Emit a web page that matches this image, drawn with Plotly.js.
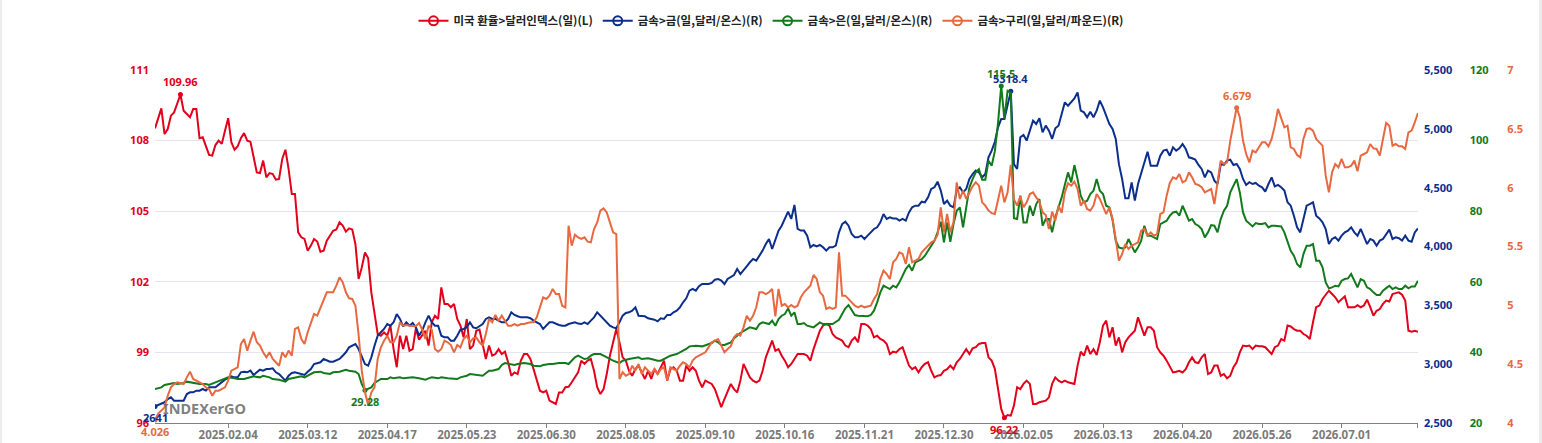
<!DOCTYPE html>
<html><head><meta charset="utf-8">
<script src="https://cdn.plot.ly/plotly-3.0.1.min.js"></script>
<style>
html,body{margin:0;padding:0;background:#fff;overflow:hidden;}
#chart{width:1542px;height:443px;}
#edgeL{position:absolute;left:0;top:0;width:2px;height:443px;background:#ececec;}
#edgeR{position:absolute;left:1539px;top:0;width:3px;height:443px;background:#ececec;}
</style>
</head><body>
<div id="chart"></div><div id="edgeL"></div><div id="edgeR"></div>
<script>
// ---- series names ----
const seriesNames = ['미국 환율>달러인덱스(일)(L)', '금속>금(일,달러/온스)(R)', '금속>은(일,달러/온스)(R)', '금속>구리(일,달러/파운드)(R)'];

// ---- x-axis tick labels (trading-day index -> date label) ----
const tickDays = [23, 48, 73, 98, 123, 148, 173, 198, 223, 248, 273, 298, 323, 348, 373];
const tickLabels = ['2025.02.04','2025.03.12','2025.04.17','2025.05.23','2025.06.30','2025.08.05','2025.09.10','2025.10.16','2025.11.21','2025.12.30','2026.02.05','2026.03.13','2026.04.20','2026.05.26','2026.07.01'];
const lastDay = 397;

// ---- Dollar index [trading day, value] ----
const dxyPoints = [[0,108.52],[2,109.37],[3,108.28],[4,108.49],[5,109.06],[6,109.2],[8,109.96],[9,109.27],[11,108.99],[12,109.34],[13,109.34],[14,108.1],[15,108.14],[16,107.76],[17,107.39],[18,107.36],[19,107.81],[20,108.0],[21,107.86],[22,108.42],[23,108.95],[24,107.93],[25,107.61],[26,107.76],[27,108.1],[28,108.32],[29,108.0],[30,107.95],[31,107.22],[32,106.65],[33,106.62],[34,107.15],[35,106.44],[36,106.62],[37,106.58],[38,106.34],[39,106.37],[40,107.22],[41,107.61],[42,106.79],[43,105.73],[44,105.73],[45,104.1],[46,103.89],[47,103.82],[48,103.32],[49,103.54],[50,103.82],[51,103.71],[52,103.28],[53,103.32],[54,103.75],[56,104.17],[57,104.22],[58,104.53],[59,104.39],[60,104.13],[61,104.27],[62,104.22],[63,103.61],[64,102.12],[65,102.61],[66,103.25],[67,103.0],[68,101.55],[69,100.56],[70,99.78],[71,99.71],[72,99.85],[73,99.71],[74,100.14],[75,99.14],[76,98.37],[77,99.71],[78,99.14],[79,99.71],[80,99.07],[81,99.14],[82,100.02],[83,99.54],[84,99.71],[85,99.92],[86,99.29],[87,100.28],[88,100.56],[89,100.42],[90,101.76],[91,101.06],[92,101.06],[93,100.92],[94,101.06],[95,100.42],[96,100.14],[97,99.64],[98,100.42],[99,99.14],[100,99.29],[101,99.92],[102,99.97],[103,99.29],[104,98.72],[105,99.29],[106,98.86],[107,98.93],[108,99.14],[109,98.93],[110,99.03],[111,98.58],[112,98.01],[113,98.15],[114,98.08],[115,98.65],[116,98.93],[117,98.93],[118,98.72],[119,98.29],[120,97.8],[121,97.37],[122,97.3],[123,97.37],[124,96.95],[125,96.88],[126,96.81],[127,97.3],[128,97.3],[129,97.52],[130,97.54],[131,97.73],[133,98.15],[134,98.65],[135,98.51],[136,98.65],[137,98.72],[138,98.22],[139,97.52],[140,97.23],[141,97.44],[142,98.08],[143,98.86],[144,99.43],[145,99.99],[146,99.43],[147,98.79],[148,98.65],[149,98.22],[150,98.01],[151,98.29],[152,98.44],[153,98.15],[154,97.87],[155,98.22],[156,97.87],[157,98.29],[158,98.08],[160,98.65],[161,97.8],[162,98.29],[163,98.37],[164,98.22],[165,97.8],[166,97.8],[167,98.44],[168,98.22],[169,98.37],[170,98.22],[171,97.8],[172,97.52],[173,97.8],[174,97.73],[175,97.66],[176,97.44],[177,97.02],[178,96.67],[179,97.02],[180,97.37],[181,97.66],[182,97.44],[183,97.3],[184,97.8],[185,98.51],[186,98.22],[187,97.94],[188,97.8],[189,97.73],[190,97.8],[191,98.22],[192,98.79],[193,99.14],[194,99.5],[195,99.07],[196,99.14],[197,98.86],[198,98.65],[199,98.37],[200,98.51],[201,98.72],[202,98.93],[203,98.93],[204,98.93],[205,98.86],[206,98.65],[207,99.14],[208,99.57],[209,99.92],[210,100.14],[211,100.21],[212,100.14],[213,99.78],[214,99.64],[215,99.57],[216,99.5],[217,99.29],[218,99.22],[219,99.5],[220,99.64],[221,99.43],[222,100.21],[223,100.21],[224,100.14],[225,99.99],[226,99.64],[227,99.71],[228,99.57],[229,99.5],[230,99.36],[231,98.93],[232,99.03],[233,99.0],[234,99.14],[235,99.22],[236,98.79],[237,98.44],[238,98.29],[239,98.37],[240,98.15],[241,98.37],[242,98.51],[243,98.58],[244,98.22],[245,97.94],[246,98.01],[247,98.04],[248,98.22],[249,98.29],[250,98.44],[251,98.29],[252,98.58],[253,98.72],[254,98.93],[255,99.14],[256,98.93],[257,99.17],[258,99.22],[259,99.36],[260,99.4],[261,99.4],[262,98.79],[263,98.65],[264,98.3],[265,97.4],[266,96.6],[267,96.22],[268,96.34],[269,96.31],[270,96.74],[271,97.52],[272,97.44],[273,97.66],[274,97.8],[275,97.66],[276,96.81],[277,96.81],[278,96.88],[280,96.95],[281,97.09],[282,97.66],[283,97.94],[284,97.8],[285,97.73],[286,97.8],[287,97.73],[289,97.66],[290,98.44],[291,99.03],[292,98.86],[293,99.29],[294,98.93],[295,99.14],[296,98.89],[297,99.43],[298,100.14],[299,100.35],[300,99.64],[301,100.07],[302,99.29],[303,99.64],[304,99.0],[305,99.43],[306,99.64],[307,99.78],[308,99.92],[309,100.49],[310,100.07],[311,99.71],[312,100.07],[313,100.07],[314,99.92],[315,99.22],[316,99.0],[317,98.86],[318,98.65],[319,98.37],[320,98.15],[321,98.18],[322,98.22],[323,98.15],[324,98.29],[325,98.58],[326,98.79],[327,98.58],[328,98.55],[329,98.79],[330,98.93],[331,98.08],[332,98.15],[333,98.44],[334,98.44],[335,98.01],[336,98.08],[337,97.9],[338,98.01],[339,98.37],[340,98.58],[341,99.0],[342,99.29],[343,99.26],[344,99.29],[345,99.14],[346,99.29],[347,99.26],[348,99.26],[349,99.22],[350,99.07],[351,98.93],[352,99.22],[353,99.29],[354,99.57],[355,99.5],[356,100.14],[357,100.1],[358,99.99],[359,99.92],[360,99.92],[361,99.78],[362,99.71],[363,99.57],[364,100.28],[365,100.92],[366,100.99],[367,101.27],[368,101.45],[369,101.62],[370,101.48],[371,101.34],[372,101.13],[373,101.27],[374,101.38],[375,100.92],[376,100.92],[377,100.92],[378,101.01],[379,100.92],[380,100.99],[381,101.24],[382,100.92],[383,100.56],[384,100.77],[385,100.84],[386,101.06],[387,101.2],[388,101.16],[389,101.48],[390,101.52],[391,101.55],[392,101.45],[393,101.2],[394,99.92],[395,99.88],[396,99.92],[397,99.88]];

// ---- Gold [trading day, USD/oz] ----
const goldPoints = [[0,2641],[2,2661],[3,2676],[4,2704],[5,2718],[6,2690],[7,2690],[9,2690],[10,2746],[11,2761],[12,2761],[13,2775],[14,2775],[15,2789],[16,2775],[17,2803],[19,2803],[20,2823],[21,2846],[22,2868],[24,2897],[25,2888],[26,2888],[27,2931],[28,2936],[29,2931],[30,2945],[31,2908],[32,2931],[33,2953],[34,2945],[35,2959],[36,2959],[37,2965],[38,2931],[39,2916],[40,2888],[41,2860],[42,2902],[43,2925],[44,2931],[45,2925],[46,2916],[47,2908],[48,2936],[49,2959],[50,3001],[51,3010],[52,3016],[53,3044],[54,3030],[55,3021],[56,3021],[57,3030],[58,3044],[59,3072],[60,3101],[61,3143],[62,3157],[63,3171],[64,3129],[65,3072],[66,3001],[67,2988],[68,3058],[69,3157],[70,3242],[71,3271],[72,3299],[73,3341],[74,3327],[75,3356],[76,3426],[77,3384],[78,3320],[79,3356],[80,3327],[81,3350],[82,3313],[83,3242],[84,3285],[85,3356],[86,3412],[87,3356],[88,3327],[89,3327],[90,3242],[91,3228],[92,3228],[93,3200],[94,3200],[95,3242],[96,3293],[97,3299],[98,3313],[99,3356],[100,3313],[101,3305],[102,3327],[103,3341],[104,3384],[105,3398],[106,3384],[107,3384],[108,3370],[109,3356],[110,3356],[111,3384],[112,3441],[113,3418],[114,3407],[115,3398],[117,3398],[118,3390],[119,3370],[120,3356],[121,3341],[122,3299],[123,3327],[124,3356],[125,3356],[126,3341],[127,3333],[128,3327],[129,3327],[130,3341],[131,3350],[132,3356],[133,3345],[134,3341],[135,3356],[136,3341],[137,3370],[138,3398],[139,3441],[140,3412],[141,3384],[142,3356],[143,3327],[144,3313],[145,3305],[146,3356],[147,3412],[148,3435],[149,3441],[150,3455],[151,3483],[152,3412],[153,3407],[154,3407],[155,3390],[156,3384],[157,3378],[158,3364],[159,3390],[160,3384],[161,3418],[162,3418],[163,3441],[164,3455],[165,3483],[166,3526],[167,3560],[168,3625],[169,3639],[170,3625],[171,3662],[172,3681],[173,3681],[174,3681],[175,3690],[176,3718],[177,3724],[178,3710],[179,3681],[180,3724],[182,3758],[183,3809],[184,3766],[185,3803],[186,3832],[187,3866],[188,3894],[189,3880],[190,3922],[191,3965],[192,4021],[193,4064],[194,3979],[195,4050],[196,4135],[197,4177],[198,4239],[199,4296],[200,4234],[201,4353],[202,4150],[203,4135],[204,4135],[205,4092],[206,3993],[207,4013],[208,4001],[209,4013],[210,3993],[211,3965],[212,3993],[213,3993],[214,4007],[215,4120],[216,4191],[217,4211],[218,4177],[219,4106],[220,4078],[221,4078],[222,4092],[223,4064],[224,4092],[225,4120],[226,4149],[227,4163],[228,4205],[229,4276],[230,4234],[231,4248],[232,4239],[233,4239],[234,4220],[235,4234],[236,4220],[237,4290],[238,4333],[239,4347],[240,4347],[241,4381],[242,4375],[243,4418],[244,4489],[245,4503],[246,4551],[247,4475],[248,4361],[249,4390],[250,4347],[251,4333],[252,4475],[253,4503],[254,4460],[255,4489],[256,4574],[257,4616],[258,4645],[259,4630],[260,4588],[261,4616],[262,4758],[263,4815],[264,4890],[265,5013],[266,5084],[267,5084],[268,5200],[269,5318.4],[270,4700],[271,4659],[272,4928],[273,4948],[274,4900],[275,4985],[276,5070],[277,5041],[278,5090],[279,4970],[280,5027],[281,4985],[282,4914],[283,5004],[284,5027],[285,5126],[286,5225],[287,5197],[288,5225],[289,5259],[290,5310],[291,5155],[292,5140],[293,5098],[294,5146],[295,5098],[296,5154],[297,5240],[298,5183],[299,5118],[300,5041],[301,4999],[302,4914],[303,4700],[304,4574],[305,4409],[306,4409],[307,4545],[308,4390],[309,4531],[310,4616],[311,4715],[312,4806],[313,4687],[314,4687],[315,4687],[316,4772],[317,4815],[318,4823],[319,4772],[320,4843],[321,4815],[322,4834],[323,4871],[324,4829],[325,4758],[326,4750],[327,4738],[328,4693],[329,4659],[330,4588],[331,4645],[332,4630],[333,4560],[334,4531],[335,4701],[336,4693],[337,4730],[338,4738],[339,4693],[340,4701],[341,4659],[342,4574],[343,4523],[344,4546],[345,4531],[346,4540],[347,4517],[348,4503],[349,4466],[350,4531],[351,4588],[352,4511],[353,4523],[354,4503],[355,4475],[356,4376],[357,4347],[358,4262],[359,4163],[360,4120],[361,4248],[362,4347],[363,4361],[364,4376],[365,4262],[366,4239],[367,4205],[368,4149],[369,4021],[370,4064],[371,4078],[372,4050],[373,4092],[374,4120],[375,4135],[376,4163],[377,4120],[378,4092],[379,4149],[380,4092],[381,4021],[382,4064],[383,4050],[384,4007],[385,4050],[386,4064],[387,4100],[388,4143],[389,4064],[390,4078],[391,4070],[392,4050],[393,4092],[394,4050],[395,4041],[396,4120],[397,4154]];

// ---- Silver [trading day, USD/oz] ----
const silverPoints = [[0,29.63],[2,30.1],[3,30.76],[5,31.04],[6,31.33],[7,31.04],[9,31.33],[10,31.71],[11,31.52],[13,31.33],[14,31.04],[16,31.04],[17,30.76],[19,31.52],[21,32.27],[22,32.65],[23,32.93],[25,32.65],[26,32.46],[28,32.46],[30,32.93],[31,33.22],[33,32.93],[34,33.4],[36,32.93],[37,32.46],[39,32.27],[41,31.71],[42,32.46],[43,32.65],[44,32.93],[46,33.22],[47,32.93],[49,33.88],[50,34.35],[52,34.54],[53,34.16],[55,33.88],[56,34.35],[58,34.54],[59,34.82],[60,35.1],[61,34.82],[63,34.54],[64,33.88],[65,31.04],[66,29.28],[68,30.1],[69,31.33],[70,31.99],[71,32.46],[73,32.46],[74,32.93],[75,32.65],[77,32.93],[78,32.65],[80,32.93],[81,32.93],[83,32.65],[85,32.27],[86,32.65],[87,32.93],[89,32.65],[90,32.93],[92,32.65],[93,32.65],[95,32.46],[96,32.93],[98,33.4],[99,33.88],[101,33.6],[102,33.4],[103,33.4],[105,34.82],[106,34.82],[108,35.29],[109,36.43],[110,36.99],[112,36.71],[113,36.43],[114,36.71],[116,36.99],[118,36.71],[119,36.24],[121,36.05],[122,36.43],[124,36.71],[125,36.71],[127,36.99],[129,36.99],[130,36.71],[131,37.65],[132,38.6],[133,39.07],[134,38.6],[135,38.12],[136,38.31],[137,39.07],[138,39.54],[139,39.54],[140,39.54],[141,39.07],[142,38.6],[143,38.12],[144,37.65],[146,36.99],[147,37.65],[149,38.12],[151,38.31],[152,38.6],[153,38.12],[155,38.31],[156,38.12],[158,37.65],[159,37.65],[161,38.6],[162,39.07],[164,39.54],[165,40.01],[167,40.96],[168,41.71],[170,41.9],[172,41.71],[173,42.09],[175,42.66],[176,43.32],[177,42.85],[178,42.09],[179,42.09],[181,42.85],[182,43.98],[183,44.73],[184,45.49],[186,46.62],[187,47.09],[189,46.62],[190,48.04],[191,48.51],[193,48.04],[194,48.98],[195,47.56],[196,49.45],[197,50.4],[198,50.87],[199,52.47],[200,50.4],[201,51.34],[202,48.04],[203,48.04],[204,48.32],[205,47.56],[207,47.09],[208,47.75],[209,48.51],[210,48.04],[212,48.04],[213,48.04],[215,49.26],[216,50.87],[217,52.47],[218,53.42],[219,52.1],[220,50.59],[221,50.4],[222,50.4],[224,50.21],[225,50.59],[226,51.81],[227,54.17],[228,57.0],[229,58.89],[230,58.42],[231,57.95],[232,58.89],[233,58.42],[234,59.84],[235,61.54],[236,63.61],[237,64.75],[238,63.14],[239,65.5],[240,66.0],[241,66.44],[242,67.39],[243,68.8],[244,70.22],[245,71.64],[246,74.0],[247,77.02],[248,71.16],[249,76.83],[250,71.35],[251,76.36],[252,80.13],[253,81.08],[254,75.41],[255,81.55],[256,86.74],[257,89.1],[258,90.99],[259,91.93],[260,88.91],[261,88.91],[262,94.29],[263,92.88],[264,97.0],[265,105.0],[266,115.5],[267,106.09],[268,114.12],[269,113.64],[270,78.0],[271,77.77],[272,84.38],[273,76.83],[274,76.83],[275,81.55],[276,78.72],[277,82.02],[278,83.44],[279,75.88],[280,77.77],[281,77.77],[282,74.0],[283,78.24],[284,81.08],[285,83.91],[286,87.5],[287,90.99],[288,88.16],[289,93.07],[290,89.1],[291,84.38],[292,82.49],[293,82.96],[294,84.85],[295,85.8],[296,89.1],[297,85.8],[298,84.85],[299,81.55],[300,81.08],[301,77.5],[302,71.64],[303,69.75],[304,69.47],[305,69.75],[306,72.11],[307,70.0],[308,68.33],[309,69.75],[310,71.64],[311,75.88],[312,73.05],[313,73.05],[314,72.58],[315,72.11],[316,76.36],[317,76.83],[318,77.3],[319,78.72],[320,79.66],[321,79.85],[322,78.72],[323,81.55],[324,79.66],[325,77.3],[326,77.77],[327,76.36],[328,75.88],[329,74.94],[330,72.58],[331,74.0],[332,76.07],[333,75.88],[334,74.0],[335,77.77],[336,80.13],[337,81.55],[338,85.32],[339,87.21],[340,89.1],[341,85.32],[342,79.66],[343,77.3],[344,76.36],[345,75.7],[346,76.64],[347,76.36],[348,76.36],[349,76.64],[350,75.41],[351,75.88],[352,75.88],[353,75.88],[354,75.7],[355,74.0],[356,71.64],[357,68.8],[358,67.39],[359,65.03],[360,64.08],[361,67.86],[362,70.22],[363,70.22],[364,70.69],[365,65.97],[366,65.97],[367,64.08],[368,59.84],[369,58.14],[370,58.42],[371,58.89],[372,58.7],[373,60.31],[374,60.78],[375,60.97],[376,62.2],[377,60.31],[378,58.42],[379,60.78],[380,60.31],[381,58.42],[382,57.95],[383,57.0],[384,56.25],[385,56.25],[386,57.48],[387,58.2],[388,58.89],[389,57.95],[390,58.42],[391,57.95],[392,57.95],[393,58.89],[394,58.14],[395,58.7],[396,58.7],[397,60.31]];

// ---- Copper [trading day, USD/lb] ----
const copperPoints = [[0,4.026],[1,4.08],[3,4.133],[4,4.232],[5,4.303],[6,4.331],[7,4.346],[9,4.331],[10,4.388],[11,4.436],[12,4.374],[13,4.36],[15,4.331],[16,4.303],[17,4.289],[18,4.232],[19,4.275],[20,4.275],[21,4.289],[22,4.303],[23,4.36],[24,4.445],[26,4.473],[27,4.671],[28,4.714],[29,4.615],[30,4.7],[31,4.776],[32,4.686],[33,4.657],[34,4.601],[35,4.558],[36,4.601],[37,4.544],[38,4.516],[39,4.487],[40,4.601],[41,4.558],[42,4.615],[43,4.572],[44,4.799],[45,4.813],[46,4.714],[47,4.671],[48,4.771],[49,4.856],[50,4.926],[51,4.912],[52,4.983],[53,5.054],[54,5.111],[56,5.111],[57,5.167],[58,5.238],[59,5.196],[60,5.111],[61,5.06],[62,5.054],[63,4.997],[64,4.75],[65,4.445],[66,4.261],[67,4.153],[68,4.261],[69,4.303],[70,4.544],[71,4.643],[72,4.7],[73,4.742],[74,4.686],[75,4.686],[76,4.742],[77,4.856],[78,4.827],[79,4.833],[80,4.827],[81,4.827],[82,4.822],[83,4.85],[84,4.793],[85,4.714],[86,4.827],[87,4.793],[88,4.629],[89,4.606],[90,4.629],[91,4.7],[92,4.686],[93,4.663],[94,4.601],[95,4.663],[96,4.643],[97,4.714],[98,4.742],[99,4.686],[100,4.72],[101,4.728],[102,4.686],[103,4.657],[104,4.756],[105,4.884],[106,4.856],[107,4.918],[108,4.87],[109,4.912],[110,4.87],[111,4.827],[112,4.827],[113,4.841],[114,4.827],[115,4.841],[116,4.841],[118,4.856],[119,4.856],[120,4.898],[121,4.983],[122,5.068],[123,5.054],[124,5.082],[125,5.139],[126,5.096],[127,5.096],[128,4.997],[129,4.983],[130,5.677],[131,5.507],[132,5.6],[133,5.578],[134,5.564],[135,5.578],[136,5.541],[137,5.535],[138,5.649],[139,5.705],[140,5.805],[141,5.824],[142,5.79],[143,5.705],[144,5.62],[145,5.606],[146,4.374],[147,4.431],[148,4.402],[149,4.416],[150,4.487],[151,4.445],[152,4.501],[153,4.416],[154,4.473],[155,4.445],[156,4.416],[157,4.459],[158,4.416],[159,4.459],[160,4.473],[161,4.36],[162,4.473],[163,4.459],[164,4.445],[165,4.487],[166,4.516],[167,4.501],[168,4.473],[169,4.53],[170,4.558],[171,4.572],[172,4.586],[173,4.601],[174,4.643],[175,4.686],[176,4.7],[177,4.714],[178,4.657],[179,4.601],[180,4.629],[181,4.652],[182,4.728],[183,4.756],[184,4.742],[185,4.813],[186,4.912],[187,4.87],[188,4.912],[189,4.983],[190,5.111],[191,5.111],[192,5.096],[193,5.111],[194,5.139],[195,4.907],[196,5.139],[197,4.997],[198,5.011],[199,4.983],[200,5.003],[201,4.983],[202,4.997],[203,5.068],[204,5.111],[205,5.139],[206,5.167],[207,5.258],[208,5.224],[209,5.111],[210,5.082],[211,4.969],[212,4.983],[213,4.969],[214,4.983],[215,5.45],[216,5.082],[217,5.082],[218,5.054],[219,5.026],[220,4.997],[221,4.983],[222,4.997],[223,4.983],[224,4.992],[225,4.997],[226,5.054],[227,5.096],[228,5.224],[229,5.295],[230,5.266],[231,5.224],[232,5.366],[233,5.394],[234,5.45],[235,5.436],[236,5.351],[237,5.493],[238,5.366],[239,5.38],[240,5.394],[241,5.45],[242,5.479],[243,5.502],[244,5.535],[245,5.55],[246,5.6],[247,5.833],[248,5.62],[249,5.776],[250,5.62],[251,5.705],[252,6.045],[253,5.904],[254,5.975],[255,5.904],[256,5.96],[257,6.011],[258,6.045],[259,6.017],[260,5.875],[261,5.847],[262,5.805],[263,5.783],[264,5.776],[265,5.904],[266,6.017],[267,5.875],[268,5.96],[269,6.193],[270,5.9],[271,5.847],[272,5.926],[273,5.833],[274,5.875],[275,5.946],[276,5.96],[277,5.918],[278,5.88],[279,5.79],[280,5.768],[281,5.649],[282,5.796],[283,5.72],[284,5.847],[285,5.785],[286,5.96],[287,6.038],[288,6.017],[289,6.051],[290,5.989],[291,5.847],[292,5.89],[293,5.819],[294,5.805],[295,5.847],[296,5.946],[297,5.904],[298,5.84],[299,5.776],[300,5.833],[301,5.734],[302,5.56],[303,5.38],[304,5.436],[305,5.521],[306,5.479],[307,5.507],[308,5.52],[309,5.535],[310,5.635],[311,5.649],[312,5.592],[313,5.62],[314,5.592],[315,5.606],[316,5.776],[317,5.79],[318,5.932],[319,6.04],[320,6.088],[321,6.074],[322,6.116],[323,6.045],[324,6.06],[325,6.13],[326,6.088],[327,6.031],[328,6.023],[329,6.003],[330,5.96],[331,5.975],[332,5.989],[333,5.861],[334,6.045],[335,6.23],[336,6.201],[337,6.215],[338,6.4],[339,6.541],[340,6.679],[341,6.598],[342,6.4],[343,6.286],[344,6.215],[345,6.315],[346,6.3],[347,6.343],[348,6.385],[349,6.385],[350,6.351],[351,6.414],[352,6.527],[353,6.669],[354,6.584],[355,6.513],[356,6.527],[357,6.343],[358,6.329],[359,6.278],[360,6.258],[361,6.414],[362,6.499],[363,6.504],[364,6.485],[365,6.414],[366,6.385],[367,6.357],[368,6.102],[369,5.96],[370,6.13],[371,6.201],[372,6.173],[373,6.244],[374,6.173],[375,6.173],[376,6.187],[377,6.23],[378,6.14],[379,6.272],[380,6.286],[381,6.3],[382,6.371],[383,6.334],[384,6.329],[385,6.272],[386,6.414],[387,6.55],[388,6.527],[389,6.357],[390,6.371],[391,6.351],[392,6.351],[393,6.329],[394,6.47],[395,6.485],[396,6.555],[397,6.635]];

// ---- styles ----
const RED = '#e3001b', BLUE = '#0c2e8c', GREEN = '#137a1c', COPPER = '#e8693f';
const FONT = '"Noto Sans CJK KR", "Noto Sans", sans-serif';
const LATIN = '"Noto Sans", "Noto Sans CJK KR", sans-serif';

const series = [
  {name: seriesNames[0], pts: dxyPoints,    color: RED,    yaxis: 'y'},
  {name: seriesNames[1], pts: goldPoints,   color: BLUE,   yaxis: 'y2'},
  {name: seriesNames[2], pts: silverPoints, color: GREEN,  yaxis: 'y3'},
  {name: seriesNames[3], pts: copperPoints, color: COPPER, yaxis: 'y4'}
];

const traces = [];
const annotations = [];
series.forEach(s => {
  const xs = s.pts.map(p => p[0]);
  const ys = s.pts.map(p => p[1]);
  traces.push({type: 'scatter', mode: 'lines', x: xs, y: ys, yaxis: s.yaxis,
    line: {color: s.color, width: 2}, showlegend: false, hoverinfo: 'skip'});
  let iMax = 0, iMin = 0;
  ys.forEach((v, i) => { if (v > ys[iMax]) iMax = i; if (v < ys[iMin]) iMin = i; });
  traces.push({type: 'scatter', mode: 'markers', x: [xs[iMax], xs[iMin]], y: [ys[iMax], ys[iMin]],
    yaxis: s.yaxis, marker: {color: s.color, size: 5}, showlegend: false, hoverinfo: 'skip'});
  annotations.push({x: xs[iMax], y: ys[iMax], xref: 'x', yref: s.yaxis, text: String(ys[iMax]),
    showarrow: false, yanchor: 'bottom', yshift: 3, font: {family: LATIN, size: 11, color: s.color, weight: 'bold'}});
  annotations.push({x: xs[iMin], y: ys[iMin], xref: 'x', yref: s.yaxis, text: String(ys[iMin]),
    showarrow: false, yanchor: 'top', yshift: -2, font: {family: LATIN, size: 11, color: s.color, weight: 'bold'}});
});
// legend entries (line with open circle)
series.forEach(s => {
  traces.push({type: 'scatter', mode: 'lines+markers', x: [null], y: [null], name: s.name,
    line: {color: s.color, width: 2}, marker: {symbol: 'circle-open', size: 9, color: s.color, line: {width: 2}},
    showlegend: true, hoverinfo: 'skip'});
});

annotations.push({xref: 'paper', yref: 'paper', x: 0.0045, y: 0.043, xanchor: 'left', yanchor: 'middle',
  text: 'INDEXerGO', showarrow: false, font: {family: LATIN, size: 14.5, color: 'rgba(105,105,105,0.85)', weight: 'bold'}});

const axisFont = (c) => ({family: LATIN, size: 11, color: c, weight: 'bold'});
const layout = {
  width: 1542, height: 443,
  margin: {l: 155, r: 20, t: 70, b: 20, autoexpand: false},
  paper_bgcolor: '#ffffff', plot_bgcolor: '#ffffff',
  showlegend: true,
  legend: {orientation: 'h', xref: 'container', yref: 'container', x: 0.5, xanchor: 'center', y: 0.953, yanchor: 'middle',
    font: {family: FONT, size: 11.5, color: '#222', weight: 'bold'}, bgcolor: 'rgba(0,0,0,0)', itemwidth: 30, tracegroupgap: 0},
  xaxis: {domain: [0, 0.9239], range: [0, lastDay], tickmode: 'array',
    tickvals: tickDays.concat([lastDay]), ticktext: tickLabels.concat(['']),
    automargin: false, showgrid: false, zeroline: false, showline: true, linecolor: '#808080', linewidth: 1,
    ticks: 'outside', ticklen: 4, tickcolor: '#808080', ticklabelstandoff: -3,
    tickfont: {family: LATIN, size: 11.5, color: '#7b7b7b', weight: 'bold'}},
  yaxis: {range: [96, 111], tick0: 96, dtick: 3, showgrid: true, gridcolor: '#e3e6f0', gridwidth: 1, automargin: false,
    zeroline: false, showline: false, ticks: '', tickfont: axisFont(RED), ticklabelstandoff: 5},
  yaxis2: {overlaying: 'y', side: 'right', anchor: 'x', range: [2500, 5500], tick0: 2500, dtick: 500, tickformat: ',', automargin: false,
    showgrid: false, zeroline: false, showline: false, ticks: '', tickfont: axisFont(BLUE), ticklabelstandoff: 5},
  yaxis3: {overlaying: 'y', side: 'right', anchor: 'free', position: 0.9574, range: [20, 120], tick0: 20, dtick: 20, automargin: false,
    showgrid: false, zeroline: false, showline: false, ticks: '', tickfont: axisFont(GREEN), ticklabelstandoff: 5},
  yaxis4: {overlaying: 'y', side: 'right', anchor: 'free', position: 0.9849, range: [4, 7], tick0: 4, dtick: 0.5, automargin: false,
    showgrid: false, zeroline: false, showline: false, ticks: '', tickfont: axisFont(COPPER), ticklabelstandoff: 5},
  annotations: annotations
};

Plotly.newPlot('chart', traces, layout, {staticPlot: true, displayModeBar: false});
</script>
</body></html>
